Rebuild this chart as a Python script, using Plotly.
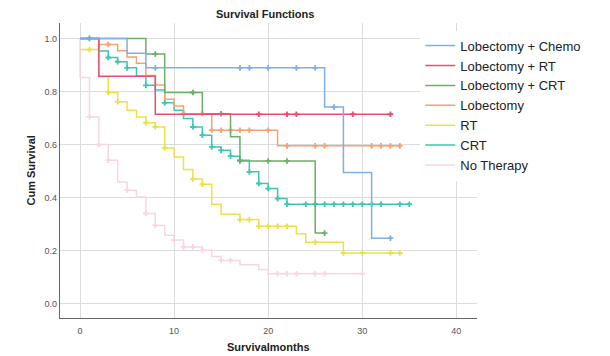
import plotly.graph_objects as go

names = ["Lobectomy + Chemo", "Lobectomy + RT", "Lobectomy + CRT", "Lobectomy", "RT", "CRT", "No Therapy"]
colors = ["#80aeea", "#e6506f", "#6caf66", "#f8a172", "#ebe249", "#3cc7b0", "#f9d6e1"]

chemo_t = [0, 5, 7, 26, 28, 31]
chemo_s = [1.0, 0.944, 0.889, 0.741, 0.494, 0.247]
chemo_end = 33
chemo_c = [8, 17, 18, 20, 23, 25, 27, 33]

lrt_t = [0, 2, 8]
lrt_s = [1.0, 0.857, 0.714]
lrt_end = 33
lrt_c = [19, 22, 23, 29, 33]

lcrt_t = [0, 7, 9, 13, 16, 17, 25]
lcrt_s = [1.0, 0.941, 0.796, 0.716, 0.629, 0.538, 0.266]
lcrt_end = 26
lcrt_c = [8, 12, 15, 17, 20, 22, 26]

lob_t = [0, 2, 4, 5, 6, 7, 8, 9, 10, 11, 14, 21]
lob_s = [1.0, 0.977, 0.953, 0.930, 0.906, 0.860, 0.824, 0.771, 0.745, 0.716, 0.654, 0.595]
lob_end = 34
lob_c = [3, 11, 13, 14, 15, 16, 17, 18, 20, 22, 25, 26, 31, 32, 33, 34]

rt_t = [0, 2, 3, 4, 5, 6, 7, 8, 9, 10, 11, 12, 13, 14, 15, 17, 19, 23, 24, 28]
rt_s = [0.958, 0.855, 0.796, 0.761, 0.729, 0.704, 0.682, 0.666, 0.587, 0.553, 0.506, 0.470,
        0.450, 0.375, 0.337, 0.317, 0.292, 0.264, 0.232, 0.191]
rt_end = 34
rt_c = [1, 3, 4, 7, 8, 9, 12, 13, 17, 18, 19, 20, 21, 22, 25, 28, 30, 33, 34]

crt_t = [0, 2, 3, 4, 5, 6, 7, 8, 9, 10, 11, 12, 13, 14, 15, 16, 17, 18, 19, 20, 21, 22]
crt_s = [1.0, 0.952, 0.928, 0.912, 0.889, 0.858, 0.823, 0.805, 0.757, 0.729, 0.698, 0.666,
         0.635, 0.591, 0.578, 0.556, 0.541, 0.497, 0.453, 0.434, 0.396, 0.375]
crt_end = 35
crt_c = [1, 3, 4, 5, 7, 9, 12, 13, 14, 15, 16, 17, 18, 19, 20, 21, 22, 24, 25, 26, 27, 28,
         29, 30, 31, 32, 34, 35]

none_t = [0, 0, 1, 2, 3, 4, 5, 6, 7, 8, 9, 10, 11, 13, 14, 15, 17, 19, 20]
none_s = [1.0, 0.853, 0.704, 0.600, 0.541, 0.459, 0.428, 0.402, 0.340, 0.295, 0.258, 0.240,
          0.214, 0.201, 0.178, 0.163, 0.147, 0.129, 0.113]
none_end = 30
none_c = [1, 2, 3, 5, 7, 8, 10, 11, 12, 13, 15, 16, 21, 22, 23, 25, 26, 30]

series = [
    (chemo_t, chemo_s, chemo_end, chemo_c),
    (lrt_t, lrt_s, lrt_end, lrt_c),
    (lcrt_t, lcrt_s, lcrt_end, lcrt_c),
    (lob_t, lob_s, lob_end, lob_c),
    (rt_t, rt_s, rt_end, rt_c),
    (crt_t, crt_s, crt_end, crt_c),
    (none_t, none_s, none_end, none_c),
]


def surv_at(ts, ss, t):
    v = ss[0]
    for ti, si in zip(ts, ss):
        if ti <= t:
            v = si
    return v


fig = go.Figure()
order = list(range(len(names)))[::-1]
for i in order:
    ts, ss, end, cs = series[i]
    xs = list(ts) + [end]
    ys = list(ss) + [ss[-1]]
    fig.add_trace(go.Scatter(
        x=xs, y=ys, mode="lines", line=dict(shape="hv", color=colors[i], width=1.5),
        name=names[i], legendrank=i + 1, showlegend=True, hoverinfo="skip"))
    fig.add_trace(go.Scatter(
        x=cs, y=[surv_at(ts, ss, c) for c in cs], mode="markers",
        marker=dict(symbol="cross-thin", size=4, line=dict(color=colors[i], width=1.8)),
        showlegend=False, hoverinfo="skip"))

font_family = "Arial, Liberation Sans, sans-serif"
fig.update_layout(
    width=610, height=356,
    margin=dict(l=60, r=133, t=23, b=38, autoexpand=False),
    paper_bgcolor="white", plot_bgcolor="white",
    font=dict(family=font_family, color="#333"),
    title=dict(text="<b>Survival Functions</b>", x=0.492, xref="paper", xanchor="center",
               y=1 - 14 / 356, yref="container", yanchor="middle",
               font=dict(size=11, color="#222")),
    xaxis=dict(range=[-2.13, 42.2], tickvals=[0, 10, 20, 30, 40], showgrid=True,
               gridcolor="#dcdcdc", gridwidth=1.3, zeroline=False, automargin=False,
               showline=True, linecolor="#666", linewidth=1.3,
               ticks="", ticklabelstandoff=4, tickfont=dict(size=9, color="#555")),
    yaxis=dict(range=[-0.054, 1.058], tickvals=[0, 0.2, 0.4, 0.6, 0.8, 1.0], tickformat=".1f",
               showgrid=True, gridcolor="#dcdcdc", gridwidth=1.3, zeroline=False, automargin=False,
               showline=True, linecolor="#666", linewidth=1.3,
               ticks="", tickfont=dict(size=9, color="#555")),
    legend=dict(x=0.864, y=0.974, xanchor="left", yanchor="top", bgcolor="white",
                font=dict(size=13, color="#222", family=font_family),
                itemwidth=30, tracegroupgap=0, traceorder="normal"),
    showlegend=True,
)
pw, ph = 610 - 60 - 133, 356 - 23 - 38
fig.add_annotation(text="<b>Survivalmonths</b>", xref="paper", yref="paper",
                   x=0.5, y=-(347 - (356 - 38)) / ph, xanchor="center", yanchor="middle",
                   showarrow=False, font=dict(size=11, color="#222"))
fig.add_annotation(text="<b>Cum Survival</b>", xref="paper", yref="paper",
                   x=-(60 - 30) / pw, y=0.5, xanchor="center", yanchor="middle", textangle=-90,
                   showarrow=False, font=dict(size=11, color="#222"))

fig.write_html("out.html")
